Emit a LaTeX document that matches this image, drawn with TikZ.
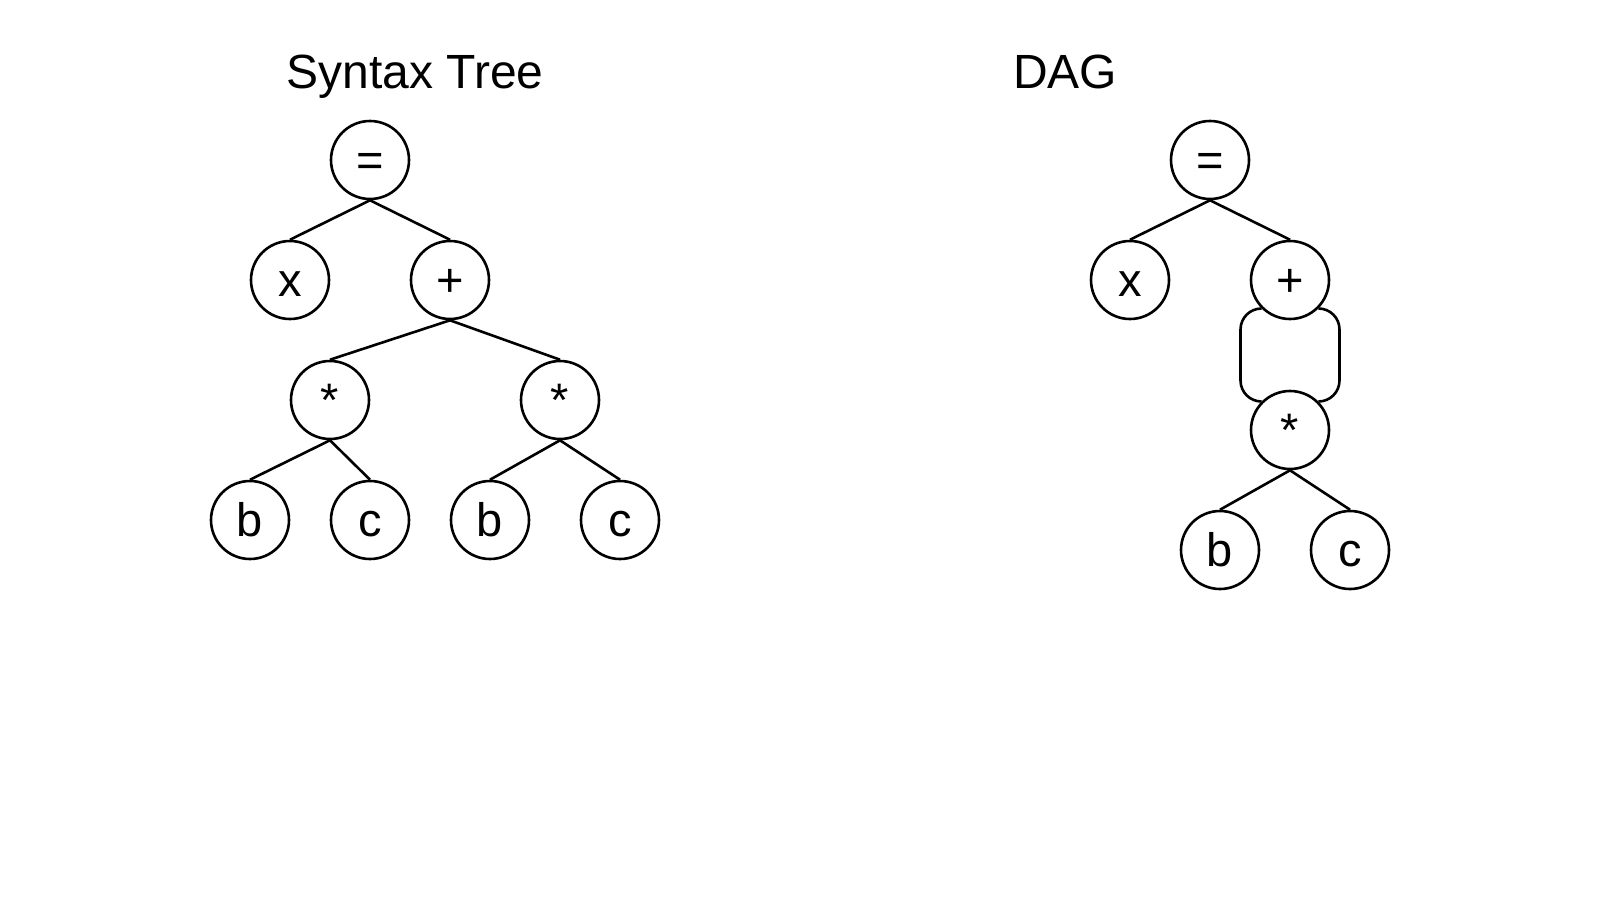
\documentclass[tikz,border=0pt]{standalone}
\usepackage{fontspec}
\setmainfont{Liberation Sans}
\begin{document}
\begin{tikzpicture}[x=1pt,y=-1pt,
  vert/.style={circle,draw,line width=2.6pt,minimum size=78pt,inner sep=0pt,
    text height=33pt,text depth=0pt,font=\fontsize{47}{50}\selectfont},
  edge/.style={line width=2.6pt},
  title/.style={anchor=base,inner sep=0pt,font=\fontsize{48}{52}\selectfont}]
\useasboundingbox (0,0) rectangle (1600,900);

% titles
\node[title] (t1) at (415,88) {Syntax Tree};
\node[title] (t2) at (1065,88) {DAG};

% syntax tree
\node[vert] (eq)  at (370,160) {=};
\node[vert] (x)   at (290,280) {x};
\node[vert] (pl)  at (450,280) {+};
\node[vert] (m1)  at (330,400) {*};
\node[vert] (m2)  at (560,400) {*};
\node[vert] (b1)  at (250,520) {b};
\node[vert] (c1)  at (370,520) {c};
\node[vert] (b2)  at (490,520) {b};
\node[vert] (c2)  at (620,520) {c};

\draw[edge] (eq.south) -- (x.north);
\draw[edge] (eq.south) -- (pl.north);
\draw[edge] (pl.south) -- (m1.north);
\draw[edge] (pl.south) -- (m2.north);
\draw[edge] (m1.south) -- (b1.north);
\draw[edge] (m1.south) -- (c1.north);
\draw[edge] (m2.south) -- (b2.north);
\draw[edge] (m2.south) -- (c2.north);

% DAG
\node[vert] (deq) at (1210,160) {=};
\node[vert] (dx)  at (1130,280) {x};
\node[vert] (dpl) at (1290,280) {+};
\node[vert] (dm)  at (1290,430) {*};
\node[vert] (db)  at (1220,550) {b};
\node[vert] (dc)  at (1350,550) {c};

\draw[edge] (deq.south) -- (dx.north);
\draw[edge] (deq.south) -- (dpl.north);
% the two shared operands of + both lead to the single * node
\draw[edge,rounded corners=21pt] (dpl.south west) -- ++(-21,0) |- (dm.north west);
\draw[edge,rounded corners=21pt] (dpl.south east) -- ++(21,0) |- (dm.north east);
\draw[edge] (dm.south) -- (db.north);
\draw[edge] (dm.south) -- (dc.north);
\end{tikzpicture}
\end{document}
